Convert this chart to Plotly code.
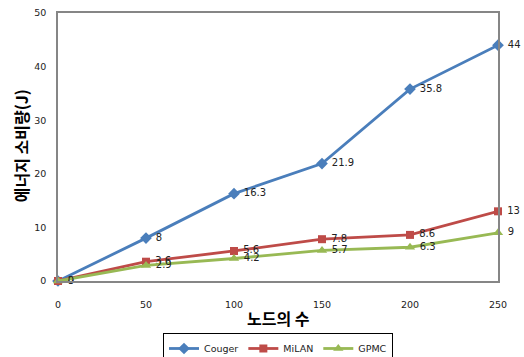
import plotly.graph_objects as go

# Number of nodes on the x axis
nodes = [0, 50, 100, 150, 200, 250]

# Energy consumption (J) for each protocol
couger = [0, 8, 16.3, 21.9, 35.8, 44]
milan = [0, 3.6, 5.6, 7.8, 8.6, 13]
gpmc = [0, 2.9, 4.2, 5.7, 6.3, 9]

series = [
    ("Couger", couger, "#4A7EBB", "diamond", 9),
    ("MiLAN", milan, "#BE4B48", "square", 8),
    ("GPMC", gpmc, "#98B954", "triangle-up", 9),
]

fig = go.Figure()
for name, vals, color, symbol, msize in series:
    fig.add_trace(go.Scatter(
        x=nodes, y=vals, name=name,
        mode="lines+markers+text",
        line=dict(color=color, width=2.8),
        marker=dict(symbol=symbol, size=msize, color=color),
        text=["\u00a0" + f"{v:g}" for v in vals],
        textposition="middle right",
        textfont=dict(family="DejaVu Sans", size=10, color="#222222"),
        cliponaxis=False,
    ))

axis_common = dict(
    showline=True, linecolor="#868686", linewidth=1.5, mirror=True,
    showgrid=False, zeroline=False,
    ticks="", tickfont=dict(family="DejaVu Sans", size=9.5, color="#222222"),
)

fig.update_xaxes(range=[0, 250], tickvals=nodes, ticklabelstandoff=14, **axis_common)
fig.update_yaxes(range=[0, 50], tickvals=[0, 10, 20, 30, 40, 50], ticklabelstandoff=8, **axis_common)

fig.add_annotation(
    text="노드의 수", xref="paper", yref="paper", x=0.5, y=-0.138,
    xanchor="center", yanchor="middle", showarrow=False,
    font=dict(family="Noto Sans CJK KR", size=16, color="#000000", weight="bold"),
)
fig.add_annotation(
    text="에너지 소비량(J)", xref="paper", yref="paper", x=-0.085, y=0.505,
    xanchor="center", yanchor="middle", textangle=-90, showarrow=False,
    font=dict(family="Noto Sans CJK KR", size=16, color="#000000", weight="bold"),
)

fig.update_layout(
    width=524, height=357,
    margin=dict(l=58, r=26, t=13, b=76, autoexpand=False),
    paper_bgcolor="white", plot_bgcolor="white",
    showlegend=True,
    legend=dict(
        orientation="h", x=0.5, xanchor="center", y=-0.194, yanchor="top",
        bordercolor="#000000", borderwidth=1, bgcolor="white",
        font=dict(family="DejaVu Sans", size=9.5, color="#222222"),
        itemwidth=30, tracegroupgap=0,
    ),
)

fig.write_html("out.html")
